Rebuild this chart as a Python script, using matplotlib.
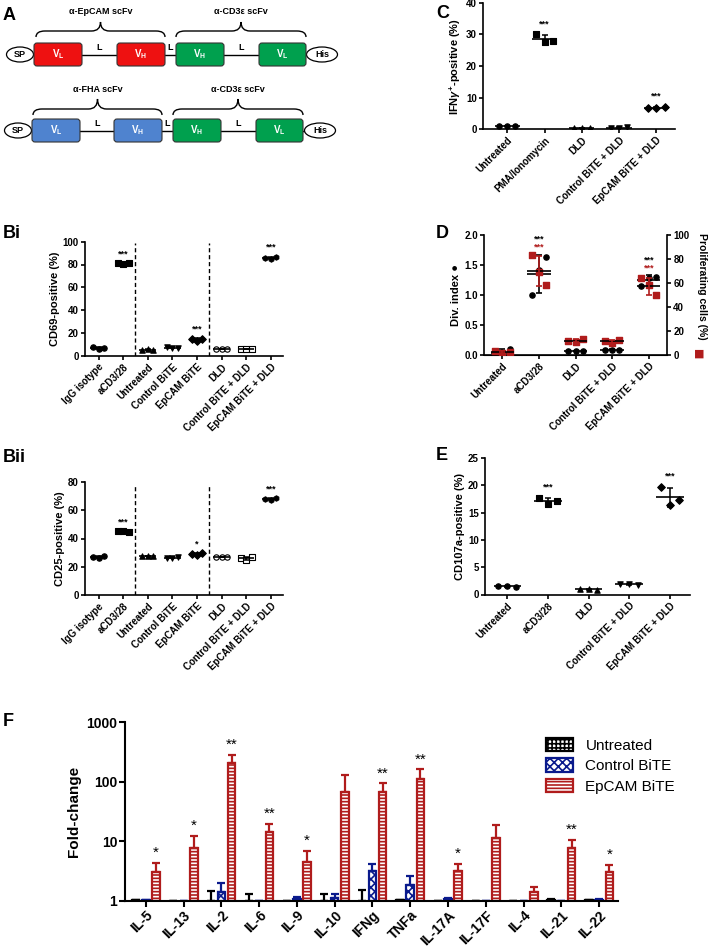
import numpy as np
import matplotlib
matplotlib.use('Agg')
import matplotlib.pyplot as plt
from matplotlib.patches import FancyBboxPatch, Ellipse, Patch, PathPatch
from matplotlib.path import Path
from matplotlib.ticker import NullLocator

plt.rcParams['font.family'] = ['Liberation Sans', 'DejaVu Sans']
plt.rcParams['font.weight'] = 'bold'
plt.rcParams['axes.labelweight'] = 'bold'
plt.rcParams['hatch.linewidth'] = 1.2
plt.rcParams['mathtext.fontset'] = 'custom'
plt.rcParams['mathtext.rm'] = 'Liberation Sans:bold'
plt.rcParams['mathtext.bf'] = 'Liberation Sans:bold'
plt.rcParams['mathtext.it'] = 'Liberation Sans:italic:bold'

# ---- data ----
b_groups = ['IgG isotype', 'aCD3/28', 'Untreated', 'Control BiTE', 'EpCAM BiTE',
            'DLD', 'Control BiTE + DLD', 'EpCAM BiTE + DLD']
cd69 = [[8.0, 6.0, 6.5], [81.0, 80.5, 81.5], [5.0, 5.5, 4.8], [7.5, 6.5, 7.0],
        [14.5, 13.0, 15.0], [5.5, 5.5, 5.5], [6.0, 6.0, 6.0], [86.0, 85.0, 87.0]]
cd69_stars = ['', '***', '', '', '***', '', '', '***']
cd25 = [[27.0, 26.5, 27.5], [45.0, 45.5, 44.5], [27.5, 27.5, 27.5], [26.5, 26.0, 27.0],
        [29.0, 28.0, 30.0], [27.0, 27.0, 27.0], [26.0, 25.0, 27.0], [68.0, 67.5, 68.5]]
cd25_stars = ['', '***', '', '', '*', '', '', '***']

c_groups = ['Untreated', 'PMA/Ionomycin', 'DLD', 'Control BiTE + DLD', 'EpCAM BiTE + DLD']
ifng = [[1.1, 0.9, 1.0], [30.0, 27.5, 28.0], [0.3, 0.3, 0.4], [0.4, 0.4, 0.5], [6.8, 6.7, 6.9]]
ifng_stars = ['', '***', '', '', '***']

d_groups = ['Untreated', 'aCD3/28', 'DLD', 'Control BiTE + DLD', 'EpCAM BiTE + DLD']
div_index = [[0.10, 0.00, 0.02], [1.63, 1.42, 1.00], [0.07, 0.07, 0.07],
             [0.09, 0.08, 0.09], [1.30, 1.29, 1.15]]
prolif = [[3.5, 1.5, 2.5], [83.0, 69.0, 58.0], [11.5, 11.0, 13.5],
          [12.0, 10.0, 12.5], [64.0, 58.0, 50.0]]
d_stars = ['', '***', '', '', '***']

e_groups = ['Untreated', 'aCD3/28', 'DLD', 'Control BiTE + DLD', 'EpCAM BiTE + DLD']
cd107a = [[1.6, 1.5, 1.3], [17.6, 16.5, 17.2], [1.0, 1.0, 0.9], [2.0, 1.9, 1.8], [19.7, 16.4, 17.3]]
e_stars = ['', '***', '', '', '***']

cytokines = ['IL-5', 'IL-13', 'IL-2', 'IL-6', 'IL-9', 'IL-10', 'IFNg', 'TNFa',
             'IL-17A', 'IL-17F', 'IL-4', 'IL-21', 'IL-22']
fc_untreated = [1.02, 1.0, 1.0, 1.0, 1.0, 1.0, 1.0, 1.02, 1.0, 1.0, 1.0, 1.04, 1.03]
fc_untreated_top = [1.02, 1.0, 1.45, 1.28, 1.0, 1.28, 1.5, 1.02, 1.0, 1.0, 1.0, 1.05, 1.04]
fc_control = [1.02, 1.0, 1.41, 1.0, 1.08, 1.1, 3.15, 1.83, 1.05, 1.0, 1.0, 1.0, 1.04]
fc_control_top = [1.02, 1.0, 2.0, 1.0, 1.17, 1.3, 4.2, 2.6, 1.1, 1.0, 1.0, 1.0, 1.06]
fc_epcam = [3.07, 7.8, 207, 14, 4.5, 67, 67, 110, 3.15, 11.1, 1.38, 7.8, 3.0]
fc_epcam_top = [4.3, 12.2, 279, 19.4, 6.8, 128, 93, 160, 4.2, 18.4, 1.72, 10.4, 4.0]
f_stars = ['*', '*', '**', '**', '*', '', '**', '**', '*', '', '', '**', '*']

RED = '#b01c1c'
NAVY = '#0a1a8c'

W, H = 709, 948
fig = plt.figure(figsize=(W / 100, H / 100), dpi=100)


def add_ax(l, t, r, b):
    return fig.add_axes([l / W, 1 - b / H, (r - l) / W, (b - t) / H])


def style(ax, fs=7):
    for s in ['top', 'right']:
        ax.spines[s].set_visible(False)
    for s in ['left', 'bottom']:
        ax.spines[s].set_linewidth(1.2)
    ax.tick_params(width=1.2, length=3, labelsize=fs, pad=1.5)


def letter(x, y, s):
    fig.text(x / W, 1 - y / H, s, fontsize=13, fontweight='bold', va='center', ha='left')


def dotplot(ax, groups, vals, stars, markers, faces, ylim, pad, fs_x=6.5):
    x = np.arange(len(groups))
    offs = np.array([-0.22, 0.0, 0.22])
    for i, v in enumerate(vals):
        v = np.array(v)
        m, sd = v.mean(), v.std(ddof=1)
        ax.scatter(x[i] + offs, v, marker=markers[i], s=15, c=faces[i],
                   edgecolors='k', linewidths=0.8, zorder=3)
        ax.hlines(m, x[i] - 0.34, x[i] + 0.34, color='k', lw=1.2, zorder=4)
        ax.errorbar(x[i], m, yerr=sd, fmt='none', ecolor='k', elinewidth=1.1,
                    capsize=2.5, capthick=1.1, zorder=4)
        if stars[i]:
            ax.text(x[i], v.max() + pad, stars[i], ha='center', va='bottom', fontsize=6.5)
    ax.set_xlim(-0.55, len(groups) - 0.5)
    ax.set_ylim(*ylim)
    ax.set_xticks(x)
    ax.set_xticklabels(groups, rotation=45, ha='right', rotation_mode='anchor', fontsize=fs_x)
    style(ax)


# ---- A: construct schematic ----
axA = add_ax(0, 0, 360, 150)
axA.set_xlim(0, 360)
axA.set_ylim(150, 0)
axA.axis('off')


def brace(ax, x0, x1, yb, ym, yt):
    xm = (x0 + x1) / 2
    r = 9
    verts = [(x0, yb), (x0, ym), (x0 + r, ym), (xm - r, ym), (xm, ym), (xm, yt),
             (xm, ym), (xm + r, ym), (x1 - r, ym), (x1, ym), (x1, yb)]
    codes = [Path.MOVETO, Path.CURVE3, Path.CURVE3, Path.LINETO, Path.CURVE3, Path.CURVE3,
             Path.CURVE3, Path.CURVE3, Path.LINETO, Path.CURVE3, Path.CURVE3]
    ax.add_patch(PathPatch(Path(verts, codes), fill=False, lw=1.0, color='k'))


rows = [
    dict(y=54.5, sp=20, his=322, boxes=[(34, 82, '#ee1111', 'L'), (117, 165, '#ee1111', 'H'),
                                        (176, 224, '#00a04e', 'H'), (259, 306, '#00a04e', 'L')],
         braces=[(36, 165, 'α-EpCAM scFv'), (176, 306, 'α-CD3ε scFv')],
         by=(37, 31, 22), ly=12),
    dict(y=130.5, sp=18, his=320, boxes=[(32, 80, '#4f83cf', 'L'), (114, 162, '#4f83cf', 'H'),
                                         (173, 221, '#00a04e', 'H'), (256, 303, '#00a04e', 'L')],
         braces=[(33, 162, 'α-FHA scFv'), (173, 303, 'α-CD3ε scFv')],
         by=(115, 109, 99), ly=90),
]
for row in rows:
    y = row['y']
    axA.plot([row['sp'], row['his']], [y, y], color='k', lw=1.0, zorder=1)
    axA.add_patch(Ellipse((row['sp'], y), 27, 15, fc='white', ec='k', lw=0.9, zorder=2))
    axA.text(row['sp'], y, 'SP', ha='center', va='center', fontsize=6.5, zorder=3)
    axA.add_patch(Ellipse((row['his'], y), 31, 15, fc='white', ec='k', lw=0.9, zorder=2))
    axA.text(row['his'], y, 'His', ha='center', va='center', fontsize=6.5, zorder=3)
    bx = row['boxes']
    for x0, x1, col, sub in bx:
        axA.add_patch(FancyBboxPatch((x0 + 2, y - 9.5), x1 - x0 - 4, 19,
                                     boxstyle='round,pad=2,rounding_size=3',
                                     fc=col, ec='#333333', lw=0.8, zorder=2))
        axA.text((x0 + x1) / 2, y, r'$\mathbf{V_%s}$' % sub, color='white',
                 ha='center', va='center', fontsize=7, zorder=3)
    for a, b in zip(bx[:-1], bx[1:]):
        axA.text((a[1] + b[0]) / 2, y - 7, 'L', ha='center', va='center', fontsize=6.5)
    yb, ym, yt = row['by']
    for x0, x1, lab in row['braces']:
        brace(axA, x0, x1, yb, ym, yt)
        axA.text((x0 + x1) / 2, row['ly'], lab, ha='center', va='center', fontsize=6.5)

# ---- Bi / Bii ----
b_markers = ['o', 's', '^', 'v', 'D', 'o', 's', 'h']
b_faces = ['k', 'k', 'k', 'k', 'k', 'w', 'w', 'k']

axBi = add_ax(85, 241.7, 283, 355.7)
dotplot(axBi, b_groups, cd69, cd69_stars, b_markers, b_faces, (0, 100), 4)
axBi.set_yticks([0, 20, 40, 60, 80, 100])
axBi.set_ylabel('CD69-positive (%)', fontsize=8, labelpad=2)
for xv in [1.5, 4.5]:
    axBi.axvline(xv, ymin=0, ymax=0.99, color='k', ls=(0, (3, 2)), lw=1)

axBii = add_ax(85, 482, 283, 595)
dotplot(axBii, b_groups, cd25, cd25_stars, b_markers, b_faces, (0, 80), 3)
axBii.set_yticks([0, 20, 40, 60, 80])
axBii.set_ylabel('CD25-positive (%)', fontsize=8, labelpad=2)
for xv in [1.5, 4.5]:
    axBii.axvline(xv, ymin=0, ymax=0.97, color='k', ls=(0, (3, 2)), lw=1)

# ---- C ----
c_markers = ['o', 's', '^', 'v', 'D']
axC = add_ax(483, 3, 675, 129)
dotplot(axC, c_groups, ifng, ifng_stars, c_markers, ['k'] * 5, (0, 40), 2)
axC.set_xlim(-0.65, 4.5)
axC.set_yticks([0, 10, 20, 30, 40])
axC.set_ylabel(r'IFN$\gamma^{+}$-positive (%)', fontsize=8, labelpad=2)

# ---- D ----
axD = add_ax(484, 235, 667, 355)
axD2 = axD.twinx()
xd = np.arange(len(d_groups))
offs = np.array([-0.2, 0.0, 0.2])
for i in range(len(d_groups)):
    p = np.array(prolif[i])
    axD2.scatter(xd[i] + offs, p, marker='s', s=16, c=RED, zorder=3)
    axD2.hlines(p.mean(), xd[i] - 0.32, xd[i] + 0.32, color='k', lw=1.2, zorder=4)
    axD2.errorbar(xd[i], p.mean(), yerr=p.std(ddof=1), fmt='none', ecolor=RED,
                  elinewidth=1.2, capsize=2.5, capthick=1.2, zorder=4)
    d = np.array(div_index[i])
    axD.scatter(xd[i] + offs[::-1], d, marker='o', s=14, c='k', zorder=3)
    axD.hlines(d.mean(), xd[i] - 0.32, xd[i] + 0.32, color='k', lw=1.2, zorder=4)
    axD.errorbar(xd[i], d.mean(), yerr=d.std(ddof=1), fmt='none', ecolor='k',
                 elinewidth=1.2, capsize=2.5, capthick=1.2, zorder=4)
    if d_stars[i]:
        top = max(d.max(), p.max() / 50)
        axD.text(xd[i], top + 0.2, d_stars[i], ha='center', va='bottom', fontsize=6.5, color='k')
        axD.text(xd[i], top + 0.07, d_stars[i], ha='center', va='bottom', fontsize=6.5, color=RED)
axD.set_xlim(-0.5, 4.5)
axD.set_ylim(0, 2)
axD2.set_ylim(0, 100)
axD.set_yticks([0, 0.5, 1.0, 1.5, 2.0])
axD.set_yticklabels(['0.0', '0.5', '1.0', '1.5', '2.0'])
axD2.set_yticks([0, 20, 40, 60, 80, 100])
axD.set_xticks(xd)
axD.set_xticklabels(d_groups, rotation=45, ha='right', rotation_mode='anchor', fontsize=6.5)
style(axD)
axD2.spines['top'].set_visible(False)
axD2.spines['left'].set_visible(False)
axD2.spines['right'].set_linewidth(1.2)
axD2.tick_params(width=1.2, length=3, labelsize=7, pad=1.5)
axD.set_ylabel('Div. index \u25cf', fontsize=8, labelpad=2)
axD2.set_ylabel('Proliferating cells (%)', fontsize=7.5, rotation=-90, va='center')
axD2.yaxis.set_label_coords(1.19, 0.57)
fig.text(699 / W, 1 - 354 / H, '\u25a0', color=RED, fontsize=8, ha='center', va='center',
         family='DejaVu Sans')

# ---- E ----
axE = add_ax(485, 458, 690, 594.5)
dotplot(axE, e_groups, cd107a, e_stars, c_markers, ['k'] * 5, (0, 25), 1.2)
axE.set_yticks([0, 5, 10, 15, 20, 25])
axE.set_ylabel('CD107a-positive (%)', fontsize=8, labelpad=2)

# ---- F ----
axF = add_ax(125, 722, 618, 900.7)
xf = np.arange(len(cytokines))
series = [
    (fc_untreated, fc_untreated_top, -0.27, 'white', 'black', '++++', 'Untreated'),
    (fc_control, fc_control_top, 0.0, 'white', NAVY, 'xxxx', 'Control BiTE'),
    (fc_epcam, fc_epcam_top, 0.27, 'white', RED, '-----', 'EpCAM BiTE'),
]
handles = []
for vals, tops, off, fc, ec, hatch, lab in series:
    vals = np.array(vals, dtype=float)
    tops = np.array(tops, dtype=float)
    axF.bar(xf + off, vals - 1, bottom=1, width=0.2, facecolor=fc, edgecolor=ec,
            hatch=hatch, lw=1.6, zorder=2)
    axF.errorbar(xf + off, vals, yerr=[np.zeros_like(vals), tops - vals], fmt='none',
                 ecolor=ec, elinewidth=1.6, capsize=3, capthick=1.6, zorder=2)
    handles.append(Patch(facecolor=fc, edgecolor=ec, hatch=hatch, lw=1.6, label=lab))
for i, s in enumerate(f_stars):
    if s:
        axF.text(xf[i] + 0.27, fc_epcam_top[i] * 1.12, s, ha='center', va='bottom', fontsize=11,
                 fontweight='normal')
axF.set_yscale('log')
axF.set_ylim(1, 1000)
axF.set_xlim(-0.55, 12.5)
axF.set_yticks([1, 10, 100, 1000])
axF.set_yticklabels(['1', '10', '100', '1000'])
axF.yaxis.set_minor_locator(NullLocator())
axF.set_xticks(xf)
axF.set_xticklabels(cytokines, rotation=45, ha='right', rotation_mode='anchor', fontsize=9.5)
style(axF, fs=10)
axF.spines['left'].set_linewidth(1.5)
axF.spines['bottom'].set_linewidth(1.5)
axF.tick_params(width=1.5, length=4)
axF.set_ylabel('Fold-change', fontsize=11, labelpad=4)
axF.legend(handles=handles, loc='upper left', bbox_to_anchor=(532 / W, 1 - 724 / H),
           bbox_transform=fig.transFigure, frameon=False, prop={'weight': 'normal', 'size': 11},
           handlelength=1.8, handleheight=1.0, labelspacing=0.35, handletextpad=0.8)

# panel letters
letter(3, 15, 'A')
letter(3, 233, 'Bi')
letter(3, 457, 'Bii')
letter(436, 13, 'C')
letter(436, 233, 'D')
letter(436, 456, 'E')
letter(3, 722, 'F')

fig.savefig('out.png', dpi=100)
